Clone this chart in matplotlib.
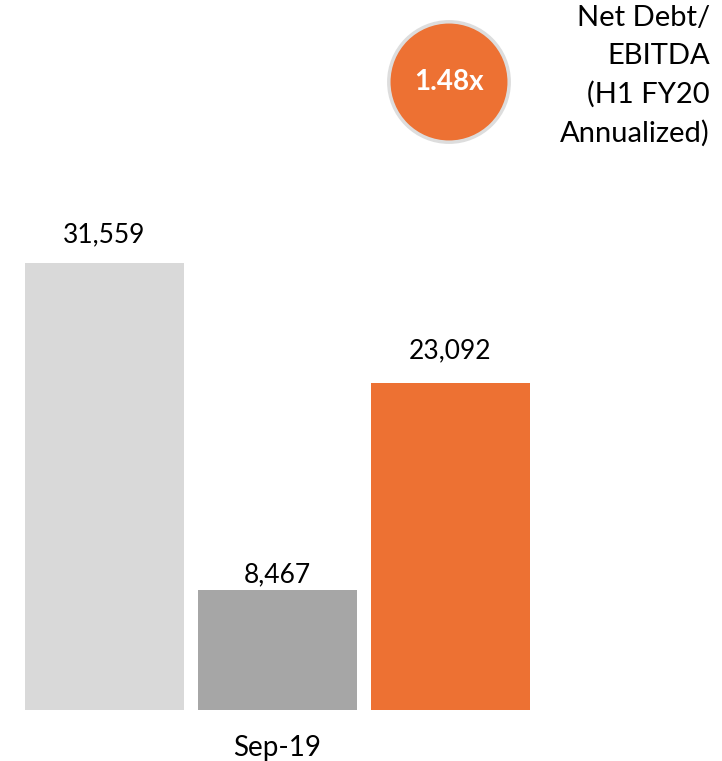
import matplotlib
matplotlib.use("Agg")
import matplotlib.pyplot as plt
from matplotlib.patches import Circle

categories = ["A", "Sep-19", "C"]
values = [31559, 8467, 23092]
value_labels = ["31,559", "8,467", "23,092"]
colors = ["#D9D9D9", "#A6A6A6", "#ED7133"]
ratio_label = "1.48x"
ratio_title = "Net Debt/\nEBITDA\n(H1 FY20\nAnnualized)"

W, H = 722, 761
fig = plt.figure(figsize=(W / 100, H / 100), dpi=100)
plt.rcParams['font.family'] = ['Lato', 'DejaVu Sans']

# main bar axes
left_px, right_px = 18, 537
bottom_px = 51
ax = fig.add_axes([left_px / W, bottom_px / H, (right_px - left_px) / W, 566.8 / H])
x = list(range(len(values)))
ax.bar(x, values, width=0.919, color=colors)
ax.set_xlim(-0.5, 2.5)
ax.set_ylim(0, 40000)
label_gap_px = [20, 8, 24]
for xi, v, lab, g in zip(x, values, value_labels, label_gap_px):
    ax.annotate(lab, (xi, v), xytext=(0, g * 0.72), textcoords="offset points",
                ha="center", va="baseline", fontsize=19, color="#000000")
ax.set_xticks([1])
ax.set_xticklabels([categories[1]], fontsize=20)
ax.tick_params(axis="x", length=0, pad=18)
ax.set_yticks([])
for s in ax.spines.values():
    s.set_visible(False)

# circle
cax = fig.add_axes([387 / W, (H - 144) / H, 124 / W, 124 / H])
cax.set_xlim(-1.03, 1.03)
cax.set_ylim(-1.03, 1.03)
cax.set_aspect("equal")
cax.axis("off")
cax.add_patch(Circle((0, 0), 1.0, facecolor="#ED7133", edgecolor="#DDDDDD", linewidth=2.5))
cax.text(0, 0, ratio_label, ha="center", va="center", color="white",
         fontsize=20, fontweight="bold")

fig.text(710 / W, (H - 5) / H, ratio_title, ha="right", va="top", fontsize=21,
         linespacing=1.56, color="#000000")

fig.savefig("out.png", dpi=100, facecolor="white")
